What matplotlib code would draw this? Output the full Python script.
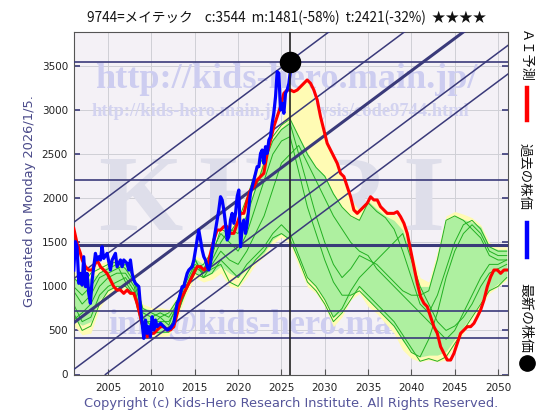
import matplotlib
matplotlib.use('Agg')
import matplotlib.pyplot as plt
from matplotlib.lines import Line2D

# ---------------- data ----------------
blue_years = [2001.03, 2001.22, 2001.41, 2001.61, 2001.80, 2001.99, 2002.18, 2002.38, 2002.57, 2002.76,
              2002.95, 2003.15, 2003.34, 2003.53, 2003.72, 2003.92, 2004.11, 2004.30, 2004.49, 2004.88,
              2005.26, 2005.46, 2005.84, 2006.03, 2006.42, 2006.61, 2006.80, 2007.19, 2007.38, 2007.57,
              2007.77, 2007.96, 2008.15, 2008.54, 2008.73, 2008.92, 2009.11, 2009.31, 2009.50, 2009.69,
              2009.88, 2010.08, 2010.27, 2010.46, 2010.65, 2011.04, 2011.42, 2011.81, 2012.19, 2012.58,
              2012.77, 2012.96, 2013.15, 2013.35, 2013.54, 2013.73, 2013.92, 2014.12, 2014.31, 2014.70,
              2014.89, 2015.27, 2015.46, 2015.66, 2015.85, 2016.04, 2016.23, 2016.43, 2016.62, 2016.81,
              2017.00, 2017.20, 2017.39, 2017.58, 2017.77, 2017.97, 2018.16, 2018.35, 2018.54, 2018.74,
              2018.93, 2019.12, 2019.31, 2019.51, 2019.70, 2019.89, 2020.08, 2020.28, 2020.47, 2020.66,
              2020.85, 2021.05, 2021.24, 2021.43, 2021.62, 2021.82, 2022.01, 2022.20, 2022.39, 2022.59,
              2022.78, 2022.97, 2023.16, 2023.36, 2023.55, 2023.74, 2023.93, 2024.12, 2024.32, 2024.51,
              2024.70, 2024.89, 2025.09, 2025.28, 2025.47, 2025.66, 2025.86, 2026.00]
blue_vals = [1186, 1508, 1451, 1035, 1148, 1016, 1337, 997, 1148, 921,
             808, 1073, 1224, 1375, 1300, 1337, 1300, 1451, 1318, 1375,
             1186, 1300, 1375, 1224, 1300, 1224, 1300, 1262, 1186, 1300,
             1148, 1073, 1035, 997, 770, 581, 410, 618, 467, 543,
             429, 656, 505, 618, 543, 581, 543, 505, 524, 581,
             694, 808, 846, 921, 997, 997, 1073, 1148, 1186, 1224,
             1300, 1527, 1640, 1527, 1413, 1337, 1300, 1224, 1186, 1262,
             1413, 1527, 1640, 1754, 1867, 2018, 1981, 1867, 1716, 1527,
             1564, 1754, 1829, 1716, 1829, 2018, 2094, 1451, 1678, 1754,
             1602, 1716, 1905, 2056, 2132, 2208, 2283, 2359, 2359, 2510,
             2548, 2397, 2586, 2510, 2662, 2700, 2851, 2965, 3154, 3438,
             3419, 3002, 3078, 2965, 3192, 3229, 3305, 3419]

red_years = [2001.03, 2001.41, 2001.80, 2002.00, 2002.38, 2002.76, 2003.15, 2003.53, 2003.72, 2004.11,
             2004.49, 2004.88, 2005.26, 2005.65, 2006.03, 2006.42, 2006.80, 2007.19, 2007.57, 2007.96,
             2008.34, 2008.73, 2009.11, 2009.50, 2009.88, 2010.27, 2010.65, 2011.04, 2011.42, 2011.81,
             2012.19, 2012.58, 2012.96, 2013.35, 2013.73, 2014.12, 2014.50, 2014.89, 2015.27, 2015.66,
             2016.04, 2016.43, 2016.81, 2017.20, 2017.58, 2017.97, 2018.35, 2018.74, 2019.12, 2019.51,
             2019.89, 2020.28, 2020.66, 2021.05, 2021.43, 2021.82, 2022.20, 2022.59, 2022.97, 2023.36,
             2023.74, 2024.12, 2024.51, 2024.89, 2025.28, 2025.66, 2026.05, 2026.43, 2026.82, 2027.20,
             2027.59, 2027.97, 2028.36, 2028.74, 2029.13, 2029.51, 2029.90, 2030.28, 2030.67, 2031.05,
             2031.44, 2031.82, 2032.21, 2032.59, 2032.98, 2033.36, 2033.75, 2034.13, 2034.52, 2034.90,
             2035.29, 2035.67, 2036.06, 2036.44, 2036.83, 2037.21, 2037.60, 2037.98, 2038.37, 2038.75,
             2039.14, 2039.52, 2039.91, 2040.29, 2040.68, 2041.06, 2041.45, 2041.83, 2042.22, 2042.60,
             2042.99, 2043.37, 2043.76, 2044.14, 2044.53, 2044.91, 2045.30, 2045.68, 2046.07, 2046.45,
             2046.84, 2047.22, 2047.61, 2047.99, 2048.38, 2048.76, 2049.15, 2049.53, 2049.92, 2050.30,
             2050.69, 2051.07]
red_vals = [1659, 1489, 1375, 1300, 1224, 1186, 1186, 1262, 1300, 1224,
            1186, 1148, 1073, 997, 959, 959, 921, 959, 921, 921,
            808, 656, 505, 429, 467, 467, 505, 543, 543, 505,
            505, 543, 694, 846, 921, 997, 1073, 1148, 1224, 1224,
            1186, 1224, 1375, 1527, 1640, 1640, 1678, 1678, 1602, 1602,
            1716, 1829, 1829, 1981, 2094, 2132, 2208, 2246, 2284, 2510,
            2662, 2813, 2927, 3040, 3192, 3229, 3229, 3210, 3229, 3267,
            3305, 3343, 3305, 3229, 3116, 2927, 2775, 2624, 2548, 2473,
            2397, 2283, 2246, 2132, 2018, 1867, 1829, 1867, 1905, 1943,
            2018, 1981, 1981, 1905, 1867, 1829, 1829, 1829, 1848, 1791,
            1716, 1602, 1413, 1224, 1035, 883, 808, 770, 656, 543,
            467, 316, 240, 164, 164, 240, 354, 467, 505, 543,
            543, 581, 656, 732, 846, 997, 1110, 1186, 1186, 1148,
            1186, 1186]

band_years = list(range(2001, 2052))
yellow_lo = [560, 450, 470, 750, 900, 950, 960, 850, 450, 420, 430, 440, 640, 900, 1100, 1050, 1080,
             1150, 1000, 980, 1100, 1250, 1340, 1480, 1560, 1480,
             1224, 997, 921, 770, 543, 656, 846, 921, 770, 694, 581, 467, 278, 183, 145, 164, 145,
             164, 316, 467, 618, 770, 921, 997, 1073]
green_lo = [620, 560, 600, 850, 950, 1000, 1000, 900, 500, 460, 470, 480, 680, 950, 1150, 1100, 1150,
            1230, 1150, 1100, 1200, 1300, 1380, 1530, 1600, 1530,
            1300, 1100, 1000, 850, 650, 720, 900, 980, 840, 760, 650, 540, 380, 260, 200, 220, 220,
            260, 400, 540, 680, 830, 960, 1030, 1100]
green_hi = [1100, 1050, 1100, 1150, 1250, 1280, 1270, 1100, 760, 730, 740, 700, 860, 1120, 1320, 1250,
            1350, 1620, 1650, 1680, 1830, 2150, 2450, 2680, 2800, 2890,
            2700, 2520, 2350, 2260, 2060, 1900, 1790, 1760, 1970, 1880, 1800, 1750, 1640, 1350, 1000,
            1000, 1350, 1750, 1800, 1760, 1730, 1680, 1450, 1420, 1420]
yellow_hi = [1150, 1200, 1220, 1250, 1300, 1320, 1300, 1150, 800, 760, 760, 740, 900, 1150, 1350, 1300,
             1420, 1680, 1700, 1800, 2050, 2330, 2500, 2720, 2850, 3230,
             3260, 3330, 3050, 2700, 2450, 2230, 1990, 1860, 1990, 1960, 1840, 1820, 1750, 1400, 1100,
             1050, 1400, 1800, 1850, 1820, 1780, 1700, 1500, 1450, 1450]

green_paths = [
    [1100, 1000, 1150, 1200, 1250, 1280, 1200, 1050, 700, 650, 700, 650, 800, 1050, 1250, 1200, 1350,
     1650, 1600, 1750, 2000, 2300, 2480, 2700, 2830, 2900,
     2700, 2500, 2350, 2250, 2050, 1900, 1800, 1750, 1950, 1850, 1780, 1650, 1400, 1100, 800, 700,
     900, 1200, 1500, 1700, 1750, 1650, 1450, 1400, 1400],
    [950, 800, 900, 1100, 1150, 1200, 1250, 1100, 750, 700, 650, 700, 850, 1100, 1300, 1150, 1300,
     1500, 1650, 1600, 1800, 2100, 2400, 2650, 2780, 2850,
     2500, 2150, 1800, 1500, 1250, 1100, 1200, 1350, 1300, 1250, 1150, 1050, 950, 900, 900, 950,
     1300, 1750, 1800, 1750, 1650, 1550, 1350, 1300, 1300],
    [800, 600, 650, 900, 1000, 1050, 1100, 950, 550, 500, 550, 520, 700, 950, 1150, 1100, 1150,
     1300, 1200, 1100, 1250, 1350, 1450, 1600, 1700, 1600,
     1350, 1100, 1000, 850, 650, 750, 950, 1100, 1200, 1300, 1400, 1500, 1600, 1300, 1000, 800,
     600, 500, 550, 650, 800, 1000, 1150, 1200, 1250],
    [700, 500, 550, 800, 950, 1000, 1000, 900, 500, 470, 480, 480, 680, 980, 1200, 1250, 1400,
     1600, 1500, 1400, 1600, 1900, 2200, 2500, 2650, 2700,
     2300, 1900, 1600, 1300, 1050, 900, 900, 950, 850, 750, 650, 550, 400, 250, 200, 400,
     700, 1100, 1400, 1600, 1700, 1600, 1400, 1350, 1350],
    [620, 700, 800, 1000, 1100, 1150, 1150, 1000, 600, 600, 600, 600, 760, 1000, 1220, 1150, 1200,
     1250, 1050, 1000, 1150, 1300, 1400, 1550, 1600, 1530,
     1300, 1050, 950, 800, 600, 700, 850, 1000, 900, 800, 700, 600, 450, 300, 150, 180,
     150, 200, 350, 500, 650, 800, 950, 1000, 1100],
    [1000, 900, 1000, 1150, 1200, 1250, 1050, 900, 650, 550, 650, 560, 820, 1120, 1320, 1100, 1250,
     1400, 1300, 1250, 1400, 1600, 1800, 2100, 2400, 2500,
     2600, 2400, 2200, 2000, 1800, 1650, 1500, 1400, 1350, 1200, 1100, 1000, 900, 800, 700, 600,
     500, 400, 500, 700, 900, 1100, 1250, 1250, 1300],
]

hlines = [3551, 2208, 1475, 720, 416]
hline_thick = [False, False, True, False, False]
diag_at_2026 = [3560, 2920, 2420, 1890, 1565]
diag_thick = [False, False, True, False, False]
diag_slope = 73.4  # value per year

now_year = 2026.0
now_price = 3544

title = "9744=メイテック    c:3544  m:1481(-58%)  t:2421(-32%)  ★★★★"
x_ticks = [2005, 2010, 2015, 2020, 2025, 2030, 2035, 2040, 2045, 2050]
y_ticks = [0, 500, 1000, 1500, 2000, 2500, 3000, 3500]

# ---------------- figure ----------------
W, H = 560, 420
fig = plt.figure(figsize=(W / 100, H / 100), dpi=100)
fig.patch.set_facecolor('white')
L, R, T, B = 73.5, 508.0, 31.7, 374.5
ax = fig.add_axes([L / W, 1 - B / H, (R - L) / W, (B - T) / H])
ax.set_facecolor('#f4f1f6')
ax.set_xlim(2001.0, 2051.15)
ax.set_ylim(0, 3891)

navy = '#3a3a7a'
ax.set_axisbelow(True)
ax.grid(True, color='#cfcfd6', lw=0.7)
ax.set_xticks(x_ticks)
ax.set_yticks(y_ticks)
ax.tick_params(axis='both', direction='in', length=4, width=1.2, color=navy,
               labelsize=7.5, labelcolor='#222222', pad=4, right=True)
ax.tick_params(axis='x', pad=6, color='#555555', width=0.8)
for s in ax.spines.values():
    s.set_color('#555555')
    s.set_linewidth(0.8)

CJK = ['Noto Sans CJK JP', 'DejaVu Sans']
renderer = fig.canvas.get_renderer()


def fit(t, target_px, use_height=False):
    bb = t.get_window_extent(renderer=renderer)
    cur = bb.height if use_height else bb.width
    t.set_fontsize(t.get_fontsize() * target_px / cur)


def ftext(px, py, s, **kw):
    return fig.text(px / W, 1 - py / H, s, **kw)


# watermarks (behind data)
wm = dict(transform=fig.transFigure, ha='center', va='center', zorder=1,
          family='Liberation Serif', weight='bold', clip_on=True)
t = ax.text(286 / W, 1 - 80 / H, "http://kids-hero.main.jp/", color='#cdcdf0', fontsize=20, **wm)
fit(t, 382)
t = ax.text(280 / W, 1 - 111 / H, "http://kids-hero.main.jp/analysis/code9744.html",
            color='#d3d3f0', fontsize=10, **wm)
fit(t, 380)
t = ax.text(284 / W, 1 - 325 / H, "info@kids-hero.main.jp", color='#cdcdf0', fontsize=20, **wm)
fit(t, 352)
for letter, cx in zip("KHRI", [140, 240, 350, 423]):
    ax.text(cx / W, 1 - 204 / H, letter, color='#dedeea', fontsize=78, **wm)

# bands
ax.fill_between(band_years, yellow_lo, yellow_hi, color='#fffbb4', lw=0, zorder=2)
ax.fill_between(band_years, green_lo, green_hi, color='#aef0a0', lw=0, zorder=2.1)
for p in green_paths:
    ax.plot(band_years, p, color='#22b022', lw=0.7, zorder=2.5)

# trend lines
for v, thick in zip(hlines, hline_thick):
    ax.axhline(v, color=navy, lw=2.2 if thick else 1.2, zorder=3)
for v, thick in zip(diag_at_2026, diag_thick):
    ax.axline((now_year, v), slope=diag_slope, color=navy, lw=2.2 if thick else 1.1, zorder=3)

ax.plot(red_years, red_vals, color='#ff0000', lw=2.2, zorder=4, solid_joinstyle='round')
ax.plot(blue_years, blue_vals, color='#0000ff', lw=2.3, zorder=5, solid_joinstyle='round')
ax.axvline(now_year, color='#222222', lw=1.2, zorder=5.5)
ax.plot([now_year], [now_price], 'o', ms=14.5, color='black', zorder=6, clip_on=False)

# texts around
t = ftext(287, 18, title, ha='center', va='center', fontsize=9.5, family=CJK, color='#111111')
fit(t, 402)
t = ftext(30, 201, "Generated on Monday 2026/1/5.", rotation=90, ha='center', va='center',
          fontsize=9.5, color='#4a4a8a')
fit(t, 213, use_height=True)
t = ftext(291, 403, "Copyright (c) Kids-Hero Research Institute. All Rights Reserved.",
          ha='center', va='center', fontsize=9.5, color='#55559a')
fit(t, 416)

# right-side legend
t = ftext(525, 56, "ＡＩ予測", rotation=-90, ha='center', va='center', fontsize=9, family=CJK,
          color='#111111')
fit(t, 53, use_height=True)
fig.add_artist(Line2D([527 / W, 527 / W], [1 - 88 / H, 1 - 120 / H], transform=fig.transFigure,
                      color='#ff0000', lw=3.2))
t = ftext(525, 176, "過去の株価", rotation=-90, ha='center', va='center', fontsize=9, family=CJK,
          color='#111111')
fit(t, 67, use_height=True)
fig.add_artist(Line2D([527 / W, 527 / W], [1 - 223 / H, 1 - 257 / H], transform=fig.transFigure,
                      color='#0000ff', lw=3.2))
t = ftext(525, 318, "最新の株価", rotation=-90, ha='center', va='center', fontsize=9, family=CJK,
          color='#111111')
fit(t, 70, use_height=True)
fig.add_artist(Line2D([527 / W], [1 - 363 / H], transform=fig.transFigure, marker='o', ms=11,
                      color='black', lw=0))

fig.savefig('out.png', dpi=100)
